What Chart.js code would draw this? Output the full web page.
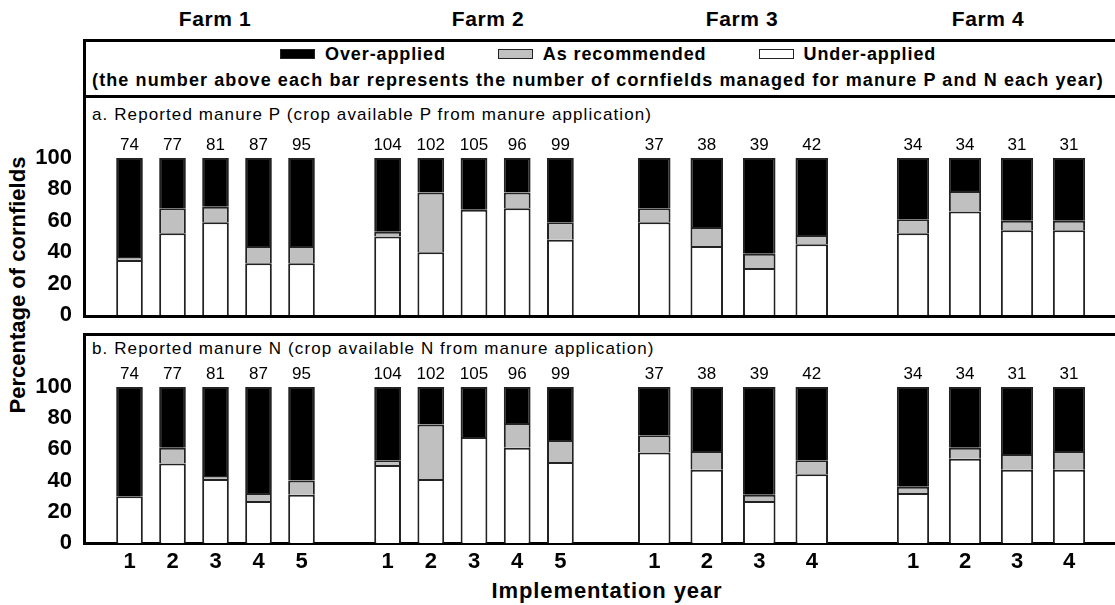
<!DOCTYPE html>
<html>
<head>
<meta charset="utf-8">
<script src="https://cdn.jsdelivr.net/npm/chart.js@4.4.0/dist/chart.umd.min.js"></script>
<style>
  body { margin: 0; background: #fff; font-family: "Liberation Sans", Arial, sans-serif; color: #000; }
  #page { position: relative; width: 1115px; height: 605px; overflow: hidden; }
  canvas { position: absolute; }
  .line { position: absolute; background: #000; }
  .txt { position: absolute; white-space: nowrap; }
  .farm { top: 7px; font-size: 21px; font-weight: bold; letter-spacing: 0.6px; line-height: 24px; transform: translateX(-50%); }
  .panel { font-size: 17px; letter-spacing: 1.1px; line-height: 20px; left: 92px; }
  #legendRow { position: absolute; left: 280px; top: 44px; display: flex; gap: 52px; align-items: center; }
  .item { display: flex; align-items: center; font-size: 18px; font-weight: bold; letter-spacing: 0.9px; line-height: 20px; }
  .swatch { width: 33px; height: 8px; border: 1px solid #222; margin-right: 10px; }
</style>
</head>
<body>
<div id="page">
  <div class="txt farm" style="left:215px">Farm 1</div>
  <div class="txt farm" style="left:488px">Farm 2</div>
  <div class="txt farm" style="left:742px">Farm 3</div>
  <div class="txt farm" style="left:988px">Farm 4</div>

  <!-- frame -->
  <div class="line" style="left:83px;top:39px;width:1032px;height:3px"></div>
  <div class="line" style="left:83px;top:95px;width:1032px;height:3px"></div>
  <div class="line" style="left:83px;top:39px;width:3px;height:279px"></div>
  <div class="line" style="left:83px;top:315px;width:1032px;height:3px"></div>
  <div class="line" style="left:83px;top:333px;width:1032px;height:3px"></div>
  <div class="line" style="left:83px;top:333px;width:3px;height:212px"></div>
  <div class="line" style="left:83px;top:542px;width:1032px;height:3px"></div>

  <div id="legendRow"></div>
  <div class="txt" style="left:598px;top:70px;transform:translateX(-50%);font-size:18px;font-weight:bold;letter-spacing:1.1px;line-height:20px">(the number above each bar represents the number of cornfields managed for manure P and N each year)</div>

  <div class="txt panel" style="top:105px">a. Reported manure P (crop available P from manure application)</div>
  <div class="txt panel" style="top:339px">b. Reported manure N (crop available N from manure application)</div>

  <div class="txt" style="left:18px;top:285px;transform:translate(-50%,-50%) rotate(-90deg);font-size:22px;font-weight:bold">Percentage of cornfields</div>
  <div class="txt" style="left:607px;top:591px;transform:translate(-50%,-50%);font-size:22px;font-weight:bold;letter-spacing:0.9px">Implementation year</div>
</div>

<script>
// farms, years and field counts
const farms = ['Farm 1', 'Farm 2', 'Farm 3', 'Farm 4'];
const years = [['1', '2', '3', '4', '5'], ['1', '2', '3', '4', '5'], ['1', '2', '3', '4'], ['1', '2', '3', '4']];
const fieldCounts = [[74, 77, 81, 87, 95], [104, 102, 105, 96, 99], [37, 38, 39, 42], [34, 34, 31, 31]];

// series
const seriesNames = ['Over-applied', 'As recommended', 'Under-applied'];
const seriesColors = ['#000000', '#c0c0c0', '#ffffff'];

// a. manure P (% of cornfields)
const underP = [[35, 52, 59, 33, 33], [50, 40, 67, 68, 48], [59, 44, 30, 45], [52, 66, 54, 54]];
const recP = [[2, 16, 10, 11, 11], [3, 38, 0, 10, 11], [9, 12, 9, 6], [9, 13, 6, 6]];
const overP = [[63, 32, 31, 56, 56], [47, 22, 33, 22, 41], [32, 44, 61, 49], [39, 21, 40, 40]];

// b. manure N (% of cornfields)
const underN = [[30, 51, 41, 27, 31], [50, 41, 68, 61, 52], [58, 47, 27, 44], [32, 54, 47, 47]];
const recN = [[0, 10, 2, 5, 9], [3, 35, 0, 16, 14], [11, 12, 4, 9], [4, 7, 10, 12]];
const overN = [[70, 39, 57, 68, 60], [47, 24, 32, 23, 34], [31, 41, 69, 47], [64, 39, 43, 41]];

const yTicks = [0, 20, 40, 60, 80, 100];

// legend (html, from the series arrays)
const legendRow = document.getElementById('legendRow');
seriesNames.forEach((name, i) => {
    const item = document.createElement('div');
    item.className = 'item';
    item.innerHTML = '<div class="swatch" style="background:' + seriesColors[i] + '"></div>' + name;
    legendRow.appendChild(item);
});

// numbers above the bars
const countLabels = {
    id: 'countLabels',
    afterDatasetsDraw(chart, args, opts) {
        const ctx = chart.ctx;
        const meta = chart.getDatasetMeta(chart.data.datasets.length - 1);
        ctx.save();
        ctx.font = '17px "Liberation Sans", Arial, sans-serif';
        ctx.fillStyle = '#000';
        ctx.textAlign = 'center';
        ctx.textBaseline = 'middle';
        meta.data.forEach((bar, i) => {
            ctx.fillText(opts.counts[i], bar.x, bar.y - 13);
        });
        ctx.restore();
    }
};

// canvas boxes for each farm; plot area of farm 1 starts after the y axis
const boxLeft = [0, 366, 628, 887];
const boxWidth = [323, 216, 210, 208];
const yAxisWidth = 108;
const pad = 50; // room above/below plot area (y tick labels need it)

function makeFarmChart(panel, f, under, rec, over) {
    const canvas = document.createElement('canvas');
    const plotTop = panel === 'a' ? 158 : 387;
    const plotBottom = panel === 'a' ? 315 : 543;
    canvas.width = boxWidth[f];
    canvas.height = plotBottom - plotTop + 2 * pad;
    canvas.style.left = boxLeft[f] + 'px';
    canvas.style.top = (plotTop - pad) + 'px';
    document.getElementById('page').appendChild(canvas);

    const font = { size: 22, weight: 'bold', family: '"Liberation Sans", Arial' };

    new Chart(canvas.getContext('2d'), {
        type: 'bar',
        data: {
            labels: years[f],
            datasets: [
                { label: seriesNames[2], data: under[f], backgroundColor: seriesColors[2] },
                { label: seriesNames[1], data: rec[f], backgroundColor: seriesColors[1] },
                { label: seriesNames[0], data: over[f], backgroundColor: seriesColors[0] }
            ]
        },
        options: {
            responsive: false,
            animation: false,
            layout: { padding: { top: pad, bottom: panel === 'a' ? pad : 0, left: 0, right: 0 } },
            datasets: {
                bar: { borderColor: '#222', borderWidth: 2, barPercentage: 0.62, categoryPercentage: 1.0 }
            },
            plugins: {
                legend: { display: false },
                tooltip: { enabled: false },
                countLabels: { counts: fieldCounts[f] }
            },
            scales: {
                x: {
                    stacked: true,
                    display: panel === 'b',
                    grid: { display: false, drawTicks: false },
                    border: { display: false },
                    ticks: { color: '#000', font: font, padding: 6, maxRotation: 0, autoSkip: false },
                    afterFit: scale => { scale.height = panel === 'b' ? pad : 0; }
                },
                y: {
                    stacked: true,
                    display: f === 0,
                    min: 0,
                    max: 100,
                    grid: { display: false, drawTicks: false },
                    border: { display: false },
                    afterBuildTicks: scale => { scale.ticks = yTicks.map(v => ({ value: v })); },
                    ticks: { color: '#000', font: font, padding: 36, autoSkip: false },
                    afterFit: scale => { scale.width = f === 0 ? yAxisWidth : 0; }
                }
            }
        },
        plugins: [countLabels]
    });
}

farms.forEach((name, f) => {
    makeFarmChart('a', f, underP, recP, overP);
    makeFarmChart('b', f, underN, recN, overN);
});
</script>
</body>
</html>
